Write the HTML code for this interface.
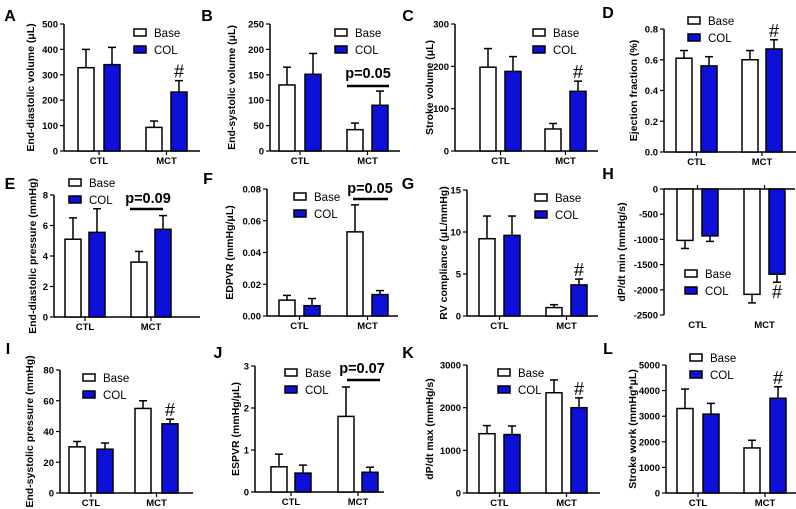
<!DOCTYPE html>
<html><head><meta charset="utf-8">
<style>
html,body{margin:0;padding:0;background:#fff;}
svg{display:block;font-family:"Liberation Sans",Arial,sans-serif;}
</style></head>
<body>
<svg id="fig" width="796" height="509" viewBox="0 0 796 509" xmlns="http://www.w3.org/2000/svg"></svg>
<script>
const categories=["CTL","MCT"];
const A_base=[328,93], A_col=[340,232], A_baseErr=[72,25], A_colErr=[68,45];
const B_base=[130,42], B_col=[151,90], B_baseErr=[35,13], B_colErr=[41,28];
const C_base=[198,52], C_col=[188,141], C_baseErr=[44,13], C_colErr=[35,24];
const D_base=[0.61,0.60], D_col=[0.56,0.67], D_baseErr=[0.05,0.06], D_colErr=[0.06,0.06];
const E_base=[5.1,3.6], E_col=[5.55,5.75], E_baseErr=[1.4,0.7], E_colErr=[1.55,0.9];
const F_base=[0.010,0.053], F_col=[0.0065,0.0135], F_baseErr=[0.003,0.017], F_colErr=[0.0045,0.0025];
const G_base=[9.2,1.0], G_col=[9.6,3.7], G_baseErr=[2.7,0.35], G_colErr=[2.3,0.7];
const H_base=[-1020,-2090], H_col=[-930,-1690], H_baseErr=[160,170], H_colErr=[110,160];
const I_base=[30,55], I_col=[28.5,45], I_baseErr=[3.5,5], I_colErr=[4,3];
const J_base=[0.6,1.8], J_col=[0.45,0.47], J_baseErr=[0.3,0.7], J_colErr=[0.19,0.12];
const K_base=[1390,2350], K_col=[1370,2000], K_baseErr=[190,300], K_colErr=[200,230];
const L_base=[3300,1760], L_col=[3080,3700], L_baseErr=[760,300], L_colErr=[420,450];
const A_ticks=[0,100,200,300,400,500], B_ticks=[0,50,100,150,200,250], C_ticks=[0,100,200,300];
const D_ticks=["0.0","0.2","0.4","0.6","0.8"], E_ticks=[0,2,4,6,8], F_ticks=["0.00","0.02","0.04","0.06","0.08"];
const G_ticks=[0,5,10,15], H_ticks=[0,-500,-1000,-1500,-2000,-2500], I_ticks=[0,20,40,60,80];
const J_ticks=[0,1,2,3], K_ticks=[0,1000,2000,3000], L_ticks=[0,1000,2000,3000,4000,5000];
const BLUE="#0c10d8";
const panels=[
 {id:"a",L:"A",base:A_base,col:A_col,be:A_baseErr,ce:A_colErr,ticks:A_ticks,min:0,max:500,ax:64,end:200,bars:[78,104,146,171],top:24,bot:151,lab:"End-diastolic volume (μL)",labx:34,leg:[134,33],hash:true,lx:10,ly:15},
 {id:"b",L:"B",base:B_base,col:B_col,be:B_baseErr,ce:B_colErr,ticks:B_ticks,min:0,max:250,ax:270,end:400,bars:[279,305,347,372],top:24,bot:151,lab:"End-systolic volume (μL)",labx:235,leg:[335,33],p:["p=0.05",368,78,347,389,86],lx:207,ly:15},
 {id:"c",L:"C",base:C_base,col:C_col,be:C_baseErr,ce:C_colErr,ticks:C_ticks,min:0,max:300,ax:455,end:598,bars:[480,505,545,570],top:24,bot:151,lab:"Stroke volume (μL)",labx:433,leg:[533,33],hash:true,lx:408,ly:15},
 {id:"d",L:"D",base:D_base,col:D_col,be:D_baseErr,ce:D_colErr,ticks:D_ticks,min:0,max:0.8,ax:664,end:796,bars:[676,701,742,766],top:29,bot:152,lab:"Ejection fraction (%)",labx:637,leg:[688,21],hash:true,lx:608,ly:12},
 {id:"e",L:"E",base:E_base,col:E_col,be:E_baseErr,ce:E_colErr,ticks:E_ticks,min:0,max:8,ax:54,end:200,bars:[65,89,131,155],top:195,bot:317,lab:"End-diastolic pressure (mmHg)",labx:36,leg:[69,183],p:["p=0.09",148,203,130,163,209],lx:10,ly:183},
 {id:"f",L:"F",base:F_base,col:F_col,be:F_baseErr,ce:F_colErr,ticks:F_ticks,min:0,max:0.08,ax:267,end:398,bars:[279,304,347,372],top:189,bot:316,lab:"EDPVR (mmHg/μL)",labx:233,leg:[294,197],p:["p=0.05",370,193,353,388,199],lx:208,ly:178},
 {id:"g",L:"G",base:G_base,col:G_col,be:G_baseErr,ce:G_colErr,ticks:G_ticks,min:0,max:15,ax:467,end:598,bars:[479,504,546,571],top:190,bot:316,lab:"RV compliance (μL/mmHg)",labx:447,leg:[535,198],hash:true,lx:408,ly:183},
 {id:"h",L:"H",base:H_base,col:H_col,be:H_baseErr,ce:H_colErr,ticks:H_ticks,min:-2500,max:0,ax:664,end:795,bars:[677,702,744,769],top:189,bot:315,lab:"dP/dt min (mmHg/s)",labx:625,leg:[685,274],hash:true,neg:true,lx:608,ly:173},
 {id:"i",L:"I",base:I_base,col:I_col,be:I_baseErr,ce:I_colErr,ticks:I_ticks,min:0,max:80,ax:60,end:193,bars:[69,97,135,162],top:370,bot:493,lab:"End-systolic pressure (mmHg)",labx:33,leg:[83,378],hash:true,lx:8,ly:348},
 {id:"j",L:"J",base:J_base,col:J_col,be:J_baseErr,ce:J_colErr,ticks:J_ticks,min:0,max:3,ax:255,end:384,bars:[271,295,338,362],top:366,bot:492,lab:"ESPVR (mmHg/μL)",labx:239,leg:[285,373],p:["p=0.07",362,373,347,380,380],lx:218,ly:352},
 {id:"k",L:"K",base:K_base,col:K_col,be:K_baseErr,ce:K_colErr,ticks:K_ticks,min:0,max:3000,ax:467,end:600,bars:[479,504,546,571],top:365,bot:493,lab:"dP/dt max (mmHg/s)",labx:433,leg:[498,373],hash:true,lx:408,ly:352},
 {id:"l",L:"L",base:L_base,col:L_col,be:L_baseErr,ce:L_colErr,ticks:L_ticks,min:0,max:5000,ax:666,end:796,bars:[677,703,744,770],top:365,bot:493,lab:"Stroke work (mmHg*μL)",labx:636,leg:[690,358],hash:true,lx:608,ly:348}
];
const svg=document.getElementById('fig');
const NS="http://www.w3.org/2000/svg";
function mk(tag,attrs,parent,text){const e=document.createElementNS(NS,tag);for(const k in attrs)e.setAttribute(k,attrs[k]);if(text!==undefined)e.textContent=text;parent.appendChild(e);return e;}
panels.forEach(p=>{
  const g=mk('g',{},svg);
  
  
  const y=v=>p.bot-(v-p.min)/(p.max-p.min)*(p.bot-p.top);
  const zero=y(0);
  const t=mk('text',{x:p.lx,y:p.ly+6,'font-size':16,'font-weight':'bold','text-anchor':'middle'},g,p.L);
  
  
  const ya=mk('line',{x1:p.ax,y1:p.top,x2:p.ax,y2:p.bot,stroke:'#000','stroke-width':1.5},g);
  
  
  const xa=mk('line',{x1:p.ax,y1:zero,x2:p.end,y2:zero,stroke:'#000','stroke-width':1.5},g);
  
  
  p.ticks.forEach(tk=>{
    const ty=y(parseFloat(tk));
    const tl=mk('line',{x1:p.ax-4,y1:ty,x2:p.ax,y2:ty,stroke:'#000','stroke-width':1.2},g);
    
    
    const tt=mk('text',{x:p.ax-6,y:ty+3.5,'font-size':9.5,'font-weight':'bold','text-anchor':'end'},g,String(tk));
    
    
  });
  const yl=mk('text',{x:0,y:0,'font-size':10.5,'font-weight':'bold','text-anchor':'middle',transform:`translate(${p.labx},${(p.top+p.bot)/2}) rotate(-90)`},g,p.lab);
  
  
  const labY=p.bot+13;
  categories.forEach((c,i)=>{
    const cx=(p.bars[i*2]+p.bars[i*2+1]+16)/2;
    const ct=mk('line',{x1:cx,y1:zero,x2:cx,y2:zero+(p.neg?-4:4),stroke:'#000','stroke-width':1.2},g);
    
    
    const cl=mk('text',{x:cx,y:labY,'font-size':9.5,'font-weight':'bold','text-anchor':'middle'},g,c);
    
    
    [[p.base,p.be,'#fff','base'],[p.col,p.ce,BLUE,'col']].forEach((s,j)=>{
      const v=s[0][i], e=s[1][i], bx=p.bars[i*2+j];
      const vy=y(v);
      const sign=v<0?1:-1;
      const ey=vy+sign*(e/(p.max-p.min)*(p.bot-p.top));
      const eb=mk('line',{x1:bx+8,y1:vy,x2:bx+8,y2:ey,stroke:'#000','stroke-width':1.5},g);
      
      
      const cap=mk('line',{x1:bx+4,y1:ey,x2:bx+12,y2:ey,stroke:'#000','stroke-width':1.5},g);
      
      
      const r=mk('rect',{x:bx,y:Math.min(vy,zero),width:16,height:Math.abs(zero-vy),fill:s[2],stroke:'#000','stroke-width':1.5},g);
      
      
      if(p.hash && i===1 && j===1){
        const hy=v<0?ey+16:ey-3;
        const h=mk('text',{x:bx+8,y:hy,'font-size':18,'text-anchor':'middle'},g,'#');
        
        
      }
    });
  });
  [['Base','#fff'],['COL',BLUE]].forEach((l,k)=>{
    const ly=p.leg[1]+k*17;
    const lb=mk('rect',{x:p.leg[0],y:ly-4,width:12,height:7,fill:l[1],stroke:'#000','stroke-width':1.5},g);
    
    
    const lt=mk('text',{x:p.leg[0]+20,y:ly+4,'font-size':11.5},g,l[0]);
    
    
  });
  if(p.p){
    const pt=mk('text',{x:p.p[1],y:p.p[2],'font-size':14.5,'font-weight':'bold','text-anchor':'middle'},g,p.p[0]);
    
    
    const pl=mk('line',{x1:p.p[3],y1:p.p[5],x2:p.p[4],y2:p.p[5],stroke:'#000','stroke-width':2.5},g);
    
    
  }
});
</script>
</body></html>
